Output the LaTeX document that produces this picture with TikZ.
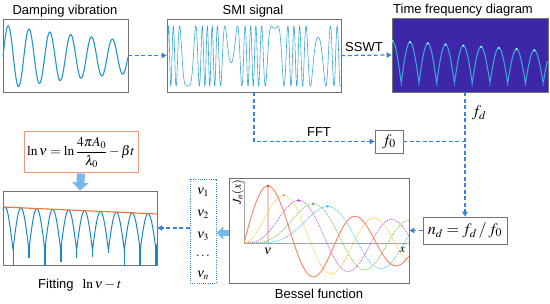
\documentclass[tikz,border=0pt]{standalone}
\usepackage{mathptmx}
\usepackage[no-math]{fontspec}
\setmainfont{Liberation Serif}
\setsansfont{Liberation Sans}
\usetikzlibrary{arrows.meta}
\definecolor{arrowblue}{RGB}{55,130,220}
\definecolor{sigblue}{RGB}{30,150,215}
\definecolor{smiblue}{RGB}{55,165,225}
\definecolor{tfbg}{RGB}{62,38,168}
\definecolor{tfline}{RGB}{60,190,225}
\definecolor{tfpeak}{RGB}{140,245,210}
\definecolor{fatblue}{RGB}{120,185,235}
\definecolor{boxgray}{RGB}{115,115,115}
\definecolor{fitorange}{RGB}{245,110,50}
\definecolor{formulaorange}{RGB}{245,150,120}
\definecolor{fitblue}{RGB}{25,135,205}
\definecolor{jone}{RGB}{245,140,110}
\definecolor{jtwo}{RGB}{250,200,80}
\definecolor{jthree}{RGB}{190,110,210}
\definecolor{jfour}{RGB}{140,195,100}
\definecolor{jfive}{RGB}{90,200,235}
\definecolor{done}{RGB}{235,60,40}
\definecolor{dtwo}{RGB}{245,170,30}
\definecolor{dthree}{RGB}{160,60,190}
\definecolor{dfour}{RGB}{60,170,60}
\definecolor{dfive}{RGB}{40,190,230}
\begin{document}
\begin{tikzpicture}[x=1pt,y=-1pt,
  lbl/.style={font=\sffamily\fontsize{13}{15}\selectfont, inner sep=0pt},
  plotbox/.style={draw=boxgray, line width=0.8pt, inner sep=0pt},
  dasharrow/.style={arrowblue, line width=1.2pt, dash pattern=on 4pt off 2.5pt, -{Triangle[width=5.5pt,length=5pt]}},
  dashline/.style={arrowblue, line width=1.2pt, dash pattern=on 4pt off 2.5pt},
  fatarrow/.style={fatblue, line width=8pt, -{Triangle[width=16pt,length=8pt]}},
  mathlbl/.style={inner sep=0pt, font=\fontsize{16}{18}\selectfont},
  declare function={
    bf(\nn,\xx,\jj)=cos(\nn*\jj*11.25 - deg(\xx*sin(\jj*11.25)));
    bj(\nn,\xx)=(0.5+0.5*cos(180*\nn)+bf(\nn,\xx,1)+bf(\nn,\xx,2)+bf(\nn,\xx,3)+bf(\nn,\xx,4)+bf(\nn,\xx,5)+bf(\nn,\xx,6)+bf(\nn,\xx,7)+bf(\nn,\xx,8)+bf(\nn,\xx,9)+bf(\nn,\xx,10)+bf(\nn,\xx,11)+bf(\nn,\xx,12)+bf(\nn,\xx,13)+bf(\nn,\xx,14)+bf(\nn,\xx,15))/16;
  }]
\useasboundingbox (0,0) rectangle (550,304);

% ---- boxes ----
\node[plotbox, minimum width=125pt, minimum height=73pt] (damp) at (65.5,55.5) {};
\node[plotbox, minimum width=174pt, minimum height=73pt] (smi) at (254,55.5) {};
\node[plotbox, fill=tfbg, minimum width=156pt, minimum height=74pt] (tf) at (470,55) {};
\node[plotbox, minimum width=28pt, minimum height=23pt] (f0) at (389,141.5) {};
\node[plotbox, minimum width=84pt, minimum height=27pt] (nd) at (465,230.5) {};
\node[plotbox, minimum width=180pt, minimum height=105pt] (bessel) at (319,230.5) {};
\node[draw=arrowblue, line width=0.9pt, dash pattern=on 1pt off 1.2pt, minimum width=26pt, minimum height=104pt, inner sep=0pt] (vbox) at (203,231) {};
\node[plotbox, minimum width=154pt, minimum height=74pt] (fit) at (80,228) {};
\node[draw=formulaorange, line width=1pt, minimum width=114pt, minimum height=41pt, inner sep=0pt, font=\fontsize{13.5}{15}\selectfont] (formula) at (81,152.5) {$\displaystyle\ln\nu=\ln\frac{4\pi A_0}{\lambda_0}-\beta t$};

% ---- titles and labels ----
\node[lbl, anchor=base] (t1) at (65,15) {Damping vibration};
\node[lbl, anchor=base] (t2) at (253,15) {SMI signal};
\node[lbl, anchor=base] (t3) at (463,14) {Time frequency diagram};
\node[lbl, anchor=base] (sswt) at (364,52) {SSWT};
\node[lbl, anchor=base] (fft) at (319,137) {FFT};
\node[lbl, anchor=base] (beslbl) at (319,299) {Bessel function};
\node[lbl, anchor=base west] (fitlbl) at (38,289) {Fitting\hspace{0.7em}{\fontsize{13.5}{15}\selectfont$\ln\nu-t$}};
\node[mathlbl] (f0t) at (f0) {$f_0$};
\node[mathlbl] (ndt) at (nd) {$n_d=f_d\,/\,f_0$};
\node[mathlbl] (fd) at (479,113) {$f_d$};
\foreach \yy/\tt [count=\i] in {192/\nu_1,214/\nu_2,236/\nu_3,256/\dots,275/\nu_n}
  \node[inner sep=0pt, font=\fontsize{13}{15}\selectfont] (v\i) at (203,\yy) {$\tt$};

% ---- damping vibration ----
\begin{scope}
\clip (damp.south west) rectangle (damp.north east);
\draw[sigblue, line width=1.1pt, domain=3:128, samples=300]
  plot (\x, {57 - 32*exp(-0.00528*(\x-3))*sin(17.283*(\x-3))});
\end{scope}

% ---- SMI signal ----
\begin{scope}
\clip (smi.south west) rectangle (smi.north east);
\draw[smiblue, line width=0.6pt, domain=167.5:340.5, samples=1000]
  plot (\x, {56 - 30*cos(deg((18.85-0.031*(\x-188))*cos(4.1379*(\x-188)) - 15.71))});
\end{scope}

% ---- time frequency diagram ----
\begin{scope}
\clip (tf.south west) rectangle (tf.north east);
\draw[tfline, opacity=0.3, line width=1.6pt, domain=392.5:547.5, samples=600]
  plot (\x, {83 - (42-0.065*(\x-392))*abs(sin(10.141*(\x-401.2)))});
\draw[tfline, line width=0.6pt, domain=392.5:547.5, samples=600]
  plot (\x, {83 - (42-0.065*(\x-392))*abs(sin(10.141*(\x-401.2)))});
\foreach \k in {-1,...,7} {
  \fill[tfpeak] ({401.2+17.75*(\k+0.5)}, {83-(42-0.065*(401.2+17.75*(\k+0.5)-392))}) circle (1.3pt);
}
\foreach \k in {0,...,8} {
  \fill[tfline, opacity=0.45] ({401.2+17.75*\k},85) circle (1.2pt);
}
\end{scope}

% ---- fitting plot ----
\begin{scope}
\clip (fit.south west) rectangle (fit.north east);
\draw[fitblue, line width=1pt, domain=3:157, samples=500]
  plot (\x, {250 - (250-(207+7*(\x-3)/154))*abs(sin(11.321*(\x-13)))});
\draw[fitblue, line width=0.9pt] (13,248) -- (13,266);
\foreach \k/\d in {1/258,2/266,3/262,4/258,5/257,6/253,7/266,8/266,9/266}
  \draw[fitblue, line width=1.6pt] ({13+15.9*\k},246) -- ({13+15.9*\k},\d);
\draw[fitorange, line width=1.1pt] (fit.west |- 0,207) -- (fit.east |- 0,214);
\end{scope}

% ---- Bessel plot ----
\begin{scope}
\clip (bessel.south west) rectangle (bessel.north east);
\begin{scope}[shift={(244,243)}, x=13pt, y=98pt]
  \draw[gray!70, line width=0.6pt] (0,0) -- (13,0);
  \draw[gray!70, line width=0.6pt, -{Stealth[length=2.5pt,width=2pt]}] (0,0) -- (0,0.64);
  \draw[jone, opacity=0.45, line width=1.2pt] (1.841,0) -- (1.841,0.5819);
  \draw[jfive, line width=0.9pt, dash pattern=on 1pt off 1pt, domain=0:12.9, samples=110] plot (\x,{bj(5,\x)});
  \draw[jfour, line width=0.9pt, dash pattern=on 1pt off 1pt, domain=0:12.9, samples=110] plot (\x,{bj(4,\x)});
  \draw[jthree, line width=0.9pt, dash pattern=on 1pt off 1pt, domain=0:12.9, samples=110] plot (\x,{bj(3,\x)});
  \draw[jtwo, line width=0.9pt, dash pattern=on 1pt off 1pt, domain=0:12.9, samples=110] plot (\x,{bj(2,\x)});
  \draw[jone, line width=1pt, domain=0:12.9, samples=110] plot (\x,{bj(1,\x)});
  \fill[done] (1.841,0.5819) circle (1.3pt);
  \fill[dtwo] (3.054,0.4865) circle (1.3pt);
  \fill[dthree] (4.201,0.4344) circle (1.3pt);
  \fill[dfour] (5.318,0.3997) circle (1.3pt);
  \fill[dfive] (6.416,0.3741) circle (1.3pt);
  \node[inner sep=0pt, font=\fontsize{12}{14}\selectfont] (xl) at (12.2,-0.075) {$x$};
  \node[inner sep=0pt, font=\fontsize{13}{15}\selectfont] (nul) at (1.84,-0.085) {$\nu$};
  \node[inner sep=0pt, rotate=90, font=\fontsize{12}{14}\selectfont] (jl) at (-0.47,0.52) {$J_n(x)$};
\end{scope}
\end{scope}

% ---- connectors ----
\draw[dasharrow] (damp.east) -- (smi.west);
\draw[dasharrow] (smi.east) -- (tf.west);
\draw[dasharrow] (smi.south) |- (f0.west);
\draw[dashline] (f0.east) -- (f0.east -| nd.north);
\draw[dasharrow] (nd.north |- tf.south) -- (nd.north);
\draw[dasharrow] (nd.west) -- (bessel.east);
\draw[fatblue, line width=6pt, -{Triangle[width=13pt,length=7pt]}] (bessel.west |- 0,233) -- (vbox.east |- 0,233);
\draw[dasharrow] (vbox.west |- fit.east) -- (fit.east);
\draw[fatarrow] (formula.south) -- (fit.north);
\end{tikzpicture}
\end{document}
